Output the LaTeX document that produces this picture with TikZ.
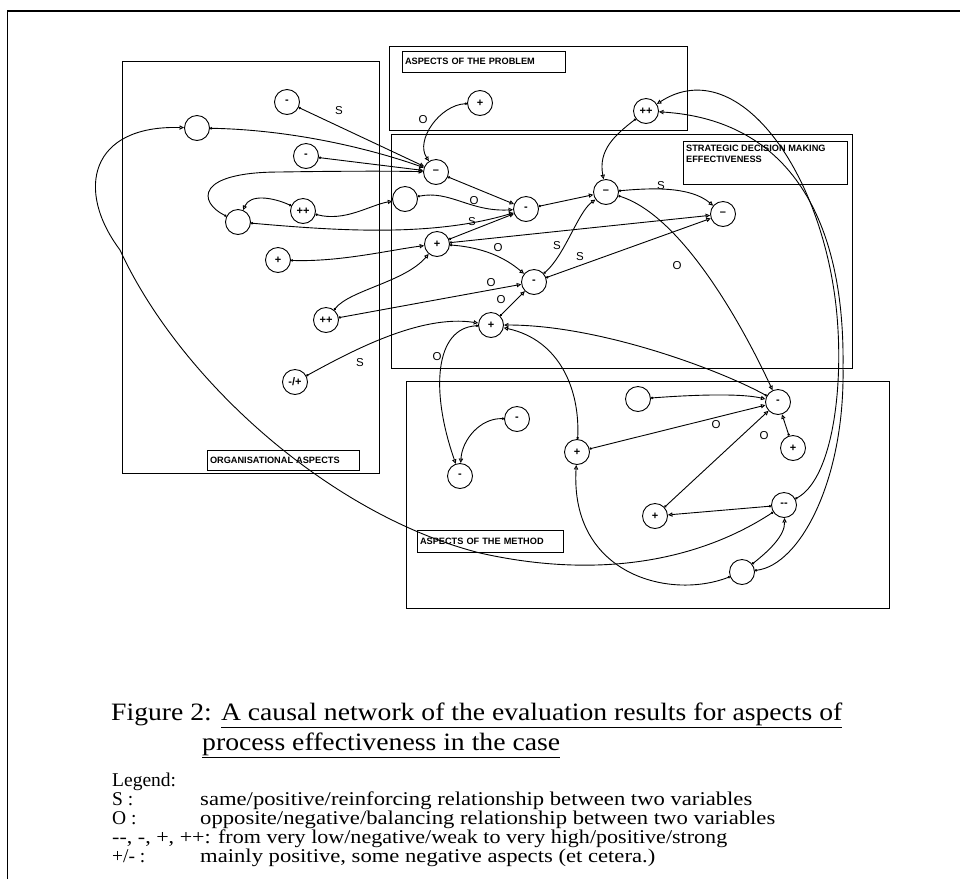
\documentclass[tikz,border=0pt]{standalone}
\usepackage{fontspec}
\setmainfont{Liberation Serif}
\setsansfont{Liberation Sans}
\usetikzlibrary{arrows.meta}
\begin{document}
\begin{tikzpicture}[x=1pt,y=-1pt,
  v/.style={circle,draw,line width=0.9pt,minimum size=25pt,inner sep=0pt,font=\sffamily\bfseries\fontsize{11}{11}\selectfont},
  arr/.style={line width=0.9pt,{Circle[length=2.4pt]}-{Triangle[open,length=4.5pt,width=4.2pt]}},
  elab/.style={font=\sffamily\fontsize{11.5}{11.5}\selectfont,inner sep=0pt},
  grp/.style={draw,line width=1pt},
  lblbox/.style={draw,line width=0.9pt,font=\sffamily\bfseries\fontsize{9.2}{10}\selectfont,inner sep=3pt,align=left},
  lbltext/.style={font=\sffamily\bfseries\fontsize{9.2}{11}\selectfont,inner sep=0pt,align=left},
  captxt/.style={font=\fontsize{25}{25}\selectfont,inner sep=0pt,anchor=base west},
  legtxt/.style={font=\fontsize{19.5}{19.5}\selectfont,inner sep=0pt,anchor=base west}
]
\useasboundingbox (0,0) rectangle (960,879);
% outer frame
\draw[line width=1.4pt] (7.5,879) -- (7.5,11) -- (960,11);

% group boxes
\draw[grp] (122,61) rectangle (379,473);
\draw[grp] (389,46) rectangle (687,130);
\draw[grp] (391,134) rectangle (852,368);
\draw[grp] (406,381) rectangle (889,608);

% group labels
\node[lblbox,minimum width=152pt,minimum height=20pt,text width=146pt] (orglbl) at (283,460) {ORGANISATIONAL ASPECTS};
\node[lblbox,minimum width=163pt,minimum height=21pt,text width=157pt] (problbl) at (483.5,61.5) {ASPECTS OF THE PROBLEM};
\node[lblbox,minimum width=146pt,minimum height=22pt,text width=140pt] (methlbl) at (490,541) {ASPECTS OF THE METHOD};
\node[draw,line width=0.9pt,minimum width=164pt,minimum height=43pt,anchor=north west,inner sep=0pt] (sdmbox) at (683,141) {};
\node[lbltext,anchor=north west] (sdmtext) at (686,145) {STRATEGIC DECISION MAKING\\EFFECTIVENESS};

% nodes: organisational aspects
\node[v] (A1) at (287,102) {-};
\node[v] (A2) at (197,128) {};
\node[v] (A3) at (306,156) {-};
\node[v] (A4) at (238,222) {};
\node[v] (A5) at (303,211) {++};
\node[v] (A6) at (278,260) {+};
\node[v] (A7) at (326,320) {++};
\node[v] (A8) at (295,382) {-/+};
% problem
\node[v] (P1) at (480,103) {+};
\node[v] (P2) at (646,111) {++};
% strategic
\node[v] (B0) at (405,199) {};
\node[v] (S1) at (436,172) {–};
\node[v] (S2) at (526,209) {-};
\node[v] (S3) at (606,192) {–};
\node[v] (S4) at (723,214) {–};
\node[v] (S5) at (437,244) {+};
\node[v] (S6) at (534,282) {-};
\node[v] (S7) at (491,325) {+};
% method
\node[v] (M1) at (517,419) {-};
\node[v] (M2) at (460,476) {-};
\node[v] (M3) at (577,452) {+};
\node[v] (M4) at (638,399) {};
\node[v] (M5) at (778,402) {-};
\node[v] (M6) at (793,448) {+};
\node[v] (M7) at (784,505) {-{}-};
\node[v] (M8) at (655,516) {+};
\node[v] (M9) at (742,572) {};

% edges
\draw[arr] (A1) -- (S1);
\draw[arr] (A2) .. controls (300,130) and (380,152) .. (S1);
\draw[arr] (A3) -- (S1);
\draw[arr] (A4) .. controls (198,202) and (195,172) .. (280,172) .. controls (340,171) and (395,171) .. (S1);
\draw[arr] (A5) .. controls (272,197) and (250,194) .. (A4);
\draw[arr] (A5) .. controls (345,222) and (370,205) .. (B0);
\draw[arr] (B0) .. controls (450,190) and (470,212) .. (S2);
\draw[arr] (A4) .. controls (330,230) and (430,238) .. (S2);
\draw[arr] (A6) .. controls (340,262) and (390,250) .. (S5);
\draw[arr] (A7) .. controls (350,290) and (405,282) .. (S5);
\draw[arr] (A7) -- (S6);
\draw[arr] (A8) .. controls (350,352) and (420,314) .. (S7);
\draw[arr] (S5) -- (S2);
\draw[arr] (S5) -- (S4);
\draw[arr] (S5) .. controls (490,248) and (510,262) .. (S6);
\draw[arr] (S1) -- (S2);
\draw[arr] (S2) -- (S3);
\draw[arr] (S3) .. controls (650,188) and (690,186) .. (S4);
\draw[arr] (S6) .. controls (565,255) and (578,212) .. (S3);
\draw[arr] (S6) -- (S4);
\draw[arr] (P2) .. controls (615,135) and (598,150) .. (S3);
\draw[arr] (P1) .. controls (440,105) and (415,140) .. (S1);
\draw[arr] (S3) .. controls (680,215) and (740,320) .. (M5);
\draw[arr] (M7) .. controls (830,480) and (842,400) .. (838,330) .. controls (830,180) and (740,50) .. (P2);
\draw[arr] (M9) .. controls (800,565) and (845,480) .. (843,367) .. controls (845,220) and (790,120) .. (P2);
\draw[arr] (M7) .. controls (700,560) and (600,580) .. (480,553) .. controls (330,515) and (180,380) .. (120,250) .. controls (75,190) and (90,125) .. (A2);
\draw[arr] (M5) .. controls (720,370) and (600,325) .. (S7);
\draw[arr] (M3) .. controls (580,390) and (560,340) .. (S7);
\draw[arr] (S7) -- (S6);
\draw[arr] (S7) .. controls (435,328) and (430,390) .. (M2);
\draw[arr] (M1) .. controls (480,418) and (462,440) .. (M2);
\draw[arr] (M4) .. controls (690,395) and (740,393) .. (M5);
\draw[arr] (M3) -- (M5);
\draw[arr] (M8) -- (M5);
\draw[arr] (M6) -- (M5);
\draw[arr] (M7) -- (M8);
\draw[arr] (M9) .. controls (770,550) and (785,535) .. (M7);
\draw[arr] (M9) .. controls (670,600) and (570,575) .. (M3);

% edge labels
\node[elab] (l1) at (339,111) {S};
\node[elab] (l2) at (423,120) {O};
\node[elab] (l3) at (474,201) {O};
\node[elab] (l4) at (472,222) {S};
\node[elab] (l5) at (498,248) {O};
\node[elab] (l6) at (557,246) {S};
\node[elab] (l7) at (580,257) {S};
\node[elab] (l8) at (661,186) {S};
\node[elab] (l9) at (677,266) {O};
\node[elab] (l10) at (491,283) {O};
\node[elab] (l11) at (501,300) {O};
\node[elab] (l12) at (437,357) {O};
\node[elab] (l13) at (360,363) {S};
\node[elab] (l14) at (716,425) {O};
\node[elab] (l15) at (764,436) {O};

% caption
\node[captxt] (cap1) at (111,720) {\resizebox{731pt}{\height}{Figure 2: \underline{A causal network of the evaluation results for aspects of}}};
\node[captxt] (cap2) at (202,750) {\resizebox{358pt}{\height}{\underline{process effectiveness in the case}}};

% legend
\node[legtxt] (leg0) at (112,786) {Legend:};
\node[legtxt] (leg1k) at (112,805) {S :};
\node[legtxt] (leg1) at (200,805) {\resizebox{552pt}{\height}{same/positive/reinforcing relationship between two variables}};
\node[legtxt] (leg2k) at (112,824) {O :};
\node[legtxt] (leg2) at (200,824) {\resizebox{575pt}{\height}{opposite/negative/balancing relationship between two variables}};
\node[legtxt] (leg3) at (112,843) {\resizebox{615pt}{\height}{-{}-, -, +, ++: from very low/negative/weak to very high/positive/strong}};
\node[legtxt] (leg4k) at (112,862) {+/- :};
\node[legtxt] (leg4) at (200,862) {\resizebox{455pt}{\height}{mainly positive, some negative aspects (et cetera.)}};
\end{tikzpicture}
\end{document}
